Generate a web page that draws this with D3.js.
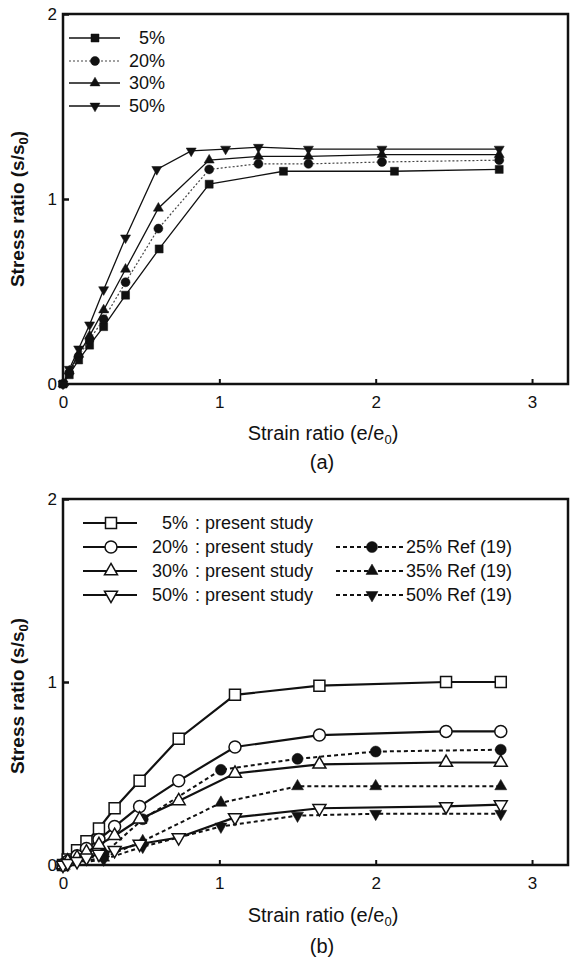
<!DOCTYPE html>
<html>
<head>
  <meta charset="utf-8">
  <script src="https://d3js.org/d3.v7.min.js"></script>
  <style>
    body { margin: 0; background: #fff; }
    text { font-family: Arial, "Liberation Sans", sans-serif; fill: #111; }
  </style>
</head>
<body>
<script>
// ---------- data ----------
// panel (a)
var a5_x  = [0, 0.04, 0.10, 0.17, 0.26, 0.40, 0.615, 0.935, 1.41, 2.12, 2.79];
var a5_y  = [0, 0.05, 0.13, 0.21, 0.31, 0.48, 0.73, 1.08, 1.15, 1.15, 1.16];
var a20_x = [0, 0.04, 0.10, 0.17, 0.26, 0.40, 0.61, 0.935, 1.25, 1.57, 2.04, 2.79];
var a20_y = [0, 0.06, 0.15, 0.24, 0.35, 0.55, 0.84, 1.16, 1.19, 1.19, 1.20, 1.21];
var a30_x = [0, 0.04, 0.10, 0.17, 0.26, 0.40, 0.61, 0.935, 1.25, 1.57, 2.04, 2.79];
var a30_y = [0, 0.07, 0.16, 0.26, 0.40, 0.62, 0.95, 1.21, 1.23, 1.23, 1.24, 1.24];
var a50_x = [0, 0.04, 0.10, 0.17, 0.26, 0.40, 0.60, 0.82, 1.04, 1.25, 1.57, 2.04, 2.79];
var a50_y = [0, 0.08, 0.19, 0.32, 0.51, 0.79, 1.16, 1.26, 1.27, 1.28, 1.27, 1.27, 1.27];

// panel (b) present study
var b_x   = [0, 0.03, 0.09, 0.15, 0.23, 0.33, 0.49, 0.74, 1.10, 1.64, 2.45, 2.80];
var b5_y  = [0, 0.03, 0.08, 0.13, 0.20, 0.31, 0.46, 0.69, 0.93, 0.98, 1.00, 1.00];
var b20_y = [0, 0.02, 0.05, 0.09, 0.14, 0.21, 0.32, 0.46, 0.645, 0.71, 0.73, 0.73];
var b30_y = [0, 0.02, 0.04, 0.07, 0.11, 0.16, 0.25, 0.35, 0.50, 0.55, 0.56, 0.56];
var b50_y = [0, 0.01, 0.02, 0.04, 0.06, 0.08, 0.115, 0.15, 0.26, 0.31, 0.32, 0.33];

// panel (b) Ref (19)
var ref_x   = [0, 0.26, 0.51, 1.01, 1.50, 2.00, 2.80];
var ref25_y = [0, 0.06, 0.25, 0.52, 0.58, 0.62, 0.63];
var ref35_y = [0, 0.04, 0.13, 0.34, 0.43, 0.43, 0.43];
var ref50_y = [0, 0.03, 0.10, 0.21, 0.27, 0.28, 0.28];

var xTicks = [0, 1, 2, 3];
var yTicks = [0, 1, 2];

var W = 571, H = 961;
var svg = d3.select("body").append("svg")
  .attr("width", W).attr("height", H);

function zip(xs, ys) {
  return xs.map(function(d, i) { return [d, ys[i]]; });
}

// marker path with "s" = visible width in px
function marker(shape, s) {
  var area, type;
  if (shape == "square") { type = d3.symbolSquare; area = s * s; }
  else if (shape == "circle") { type = d3.symbolCircle; area = Math.PI * s * s / 4; }
  else { type = d3.symbolTriangle; area = Math.sqrt(3) / 4 * s * s; }
  return d3.symbol().type(type).size(area)();
}

function drawPanel(top, bottom, yTitleShift) {
  var x = d3.scaleLinear().domain([0, 3.23]).range([63, 568]);
  var y = d3.scaleLinear().domain([0, 2]).range([bottom, top]);
  var g = svg.append("g");

  // x axis ticks (inward)
  var xa = g.append("g")
    .attr("transform", "translate(0," + bottom + ")")
    .call(d3.axisBottom(x).tickValues(xTicks).tickFormat(d3.format("d"))
      .tickSize(-5).tickPadding(12));
  xa.select(".domain").remove();
  xa.selectAll("line").attr("stroke", "#111").attr("stroke-width", 2);
  xa.selectAll("text").style("font-size", "17px").attr("fill", "#111");

  var ya = g.append("g")
    .attr("transform", "translate(" + x(0) + ",0)")
    .call(d3.axisLeft(y).tickValues(yTicks).tickFormat(d3.format("d"))
      .tickSize(-6).tickPadding(6));
  ya.select(".domain").remove();
  ya.selectAll("line").attr("stroke", "#111").attr("stroke-width", 2.5);
  ya.selectAll("text").style("font-size", "17px").attr("fill", "#111");

  // frame
  g.append("rect")
    .attr("x", x(0)).attr("y", y(2))
    .attr("width", x(3.23) - x(0)).attr("height", y(0) - y(2))
    .attr("fill", "none").attr("stroke", "#111").attr("stroke-width", 2.5);

  // y title
  var yt = g.append("text")
    .attr("transform", "translate(24," + ((top + bottom) / 2 + yTitleShift) + ") rotate(-90)")
    .attr("text-anchor", "middle")
    .style("font-size", "19px").style("font-weight", "bold");
  yt.append("tspan").text("Stress ratio (s/s");
  yt.append("tspan").text("0").style("font-size", "13px").attr("dy", 4);
  yt.append("tspan").text(")").attr("dy", -4);

  return { g: g, x: x, y: y };
}

function xTitle(yBase, label, labelBase) {
  var t = svg.append("text")
    .attr("x", 323).attr("y", yBase)
    .attr("text-anchor", "middle")
    .style("font-size", "20px");
  t.append("tspan").text("Strain ratio (e/e");
  t.append("tspan").text("0").style("font-size", "13px").attr("dy", 4);
  t.append("tspan").text(")").attr("dy", -4);
  svg.append("text")
    .attr("x", 322).attr("y", labelBase)
    .attr("text-anchor", "middle")
    .style("font-size", "20px")
    .text(label);
}

function drawSeries(p, pts, opt) {
  var line = d3.line()
    .x(function(d) { return p.x(d[0]); })
    .y(function(d) { return p.y(d[1]); });
  p.g.append("path")
    .datum(pts)
    .attr("d", line)
    .attr("fill", "none")
    .attr("stroke", opt.color || "#111")
    .attr("stroke-width", opt.width)
    .attr("stroke-dasharray", opt.dash || null);
  p.g.selectAll(null)
    .data(pts)
    .enter()
    .append("path")
    .attr("d", marker(opt.shape, opt.size))
    .attr("transform", function(d) {
      return "translate(" + p.x(d[0]) + "," + p.y(d[1]) + ")" + (opt.down ? " rotate(180)" : "");
    })
    .attr("fill", opt.open ? "#fff" : "#111")
    .attr("stroke", "#111")
    .attr("stroke-width", opt.open ? 1.5 : 0.5);
}

function legendItem(x1, x2, xm, yRow, opt) {
  svg.append("line")
    .attr("x1", x1).attr("x2", x2).attr("y1", yRow).attr("y2", yRow)
    .attr("stroke", opt.color || "#111")
    .attr("stroke-width", opt.width)
    .attr("stroke-dasharray", opt.dash || null);
  svg.append("path")
    .attr("d", marker(opt.shape, opt.size))
    .attr("transform", "translate(" + xm + "," + yRow + ")" + (opt.down ? " rotate(180)" : ""))
    .attr("fill", opt.open ? "#fff" : "#111")
    .attr("stroke", "#111")
    .attr("stroke-width", opt.open ? 1.5 : 0.5);
}

// ---------- panel (a) ----------
var pa = drawPanel(14, 384, 10);
var styleA = [
  { name: "5%",  xs: a5_x,  ys: a5_y,  shape: "square",   size: 8,  width: 1.3 },
  { name: "20%", xs: a20_x, ys: a20_y, shape: "circle",   size: 9,  width: 1.2, dash: "2,2", color: "#444" },
  { name: "30%", xs: a30_x, ys: a30_y, shape: "triangle", size: 10, width: 1.3 },
  { name: "50%", xs: a50_x, ys: a50_y, shape: "triangle", size: 10, width: 1.3, down: true }
];
styleA.forEach(function(s) { drawSeries(pa, zip(s.xs, s.ys), s); });

var rowsA = [38, 61, 83, 106];
styleA.forEach(function(s, i) {
  legendItem(69, 120, 95, rowsA[i], s);
  svg.append("text")
    .attr("x", 165).attr("y", rowsA[i])
    .attr("dy", "0.36em")
    .attr("text-anchor", "end")
    .style("font-size", "18px")
    .text(s.name);
});
xTitle(440, "(a)", 469);

// ---------- panel (b) ----------
var pb = drawPanel(499, 865, 14);
var styleB = [
  { name: "5%",  ys: b5_y,  shape: "square",   size: 11, width: 2.2, open: true },
  { name: "20%", ys: b20_y, shape: "circle",   size: 12, width: 2.2, open: true },
  { name: "30%", ys: b30_y, shape: "triangle", size: 13, width: 2.2, open: true },
  { name: "50%", ys: b50_y, shape: "triangle", size: 13, width: 2.2, open: true, down: true }
];
var styleRef = [
  { name: "25% Ref (19)", ys: ref25_y, shape: "circle",   size: 11, width: 2, dash: "4,3" },
  { name: "35% Ref (19)", ys: ref35_y, shape: "triangle", size: 12, width: 2, dash: "4,3" },
  { name: "50% Ref (19)", ys: ref50_y, shape: "triangle", size: 12, width: 2, dash: "4,3", down: true }
];
styleRef.forEach(function(s) { drawSeries(pb, zip(ref_x, s.ys), s); });
styleB.forEach(function(s) { drawSeries(pb, zip(b_x, s.ys), s); });

var rowsB = [523, 547, 571, 595];
styleB.forEach(function(s, i) {
  legendItem(83, 137, 111, rowsB[i], s);
  svg.append("text")
    .attr("x", 188).attr("y", rowsB[i]).attr("dy", "0.36em")
    .attr("text-anchor", "end")
    .style("font-size", "18px")
    .text(s.name);
  svg.append("text")
    .attr("x", 195).attr("y", rowsB[i]).attr("dy", "0.36em")
    .style("font-size", "18px")
    .text(": present study");
});
styleRef.forEach(function(s, i) {
  legendItem(336, 403, 372, rowsB[i + 1], s);
  svg.append("text")
    .attr("x", 406).attr("y", rowsB[i + 1]).attr("dy", "0.36em")
    .style("font-size", "18px")
    .text(s.name);
});
xTitle(922, "(b)", 953);
</script>
</body>
</html>
